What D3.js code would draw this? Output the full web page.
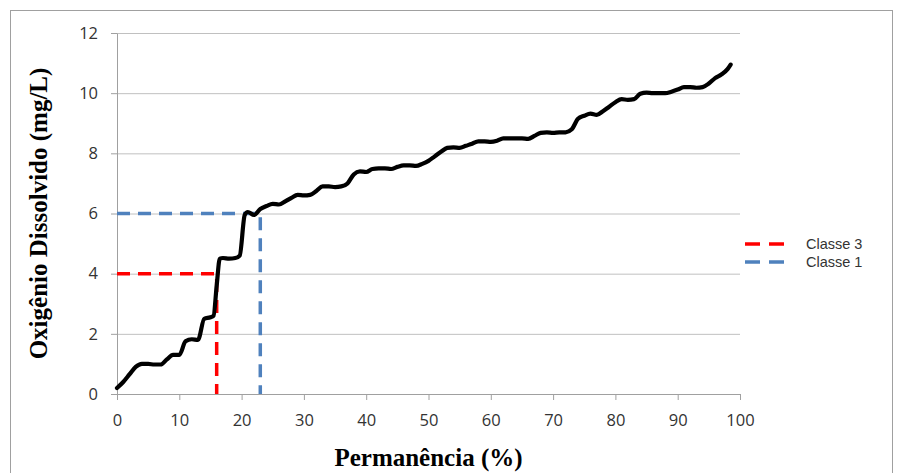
<!DOCTYPE html>
<meta charset="utf-8">
<title>Permanência do Oxigênio Dissolvido</title>
<style>
body{margin:0;background:#fff;}
.tick text{font-family:"Open Sans",sans-serif;font-size:16.5px;fill:#333;}
.grid line{stroke:#c0c0c0;}
.axis path,.axis line{stroke:#a0a0a0;}
.title{font-family:"Liberation Serif",serif;font-weight:bold;font-size:25px;fill:#000;}
.legend text{font-family:"Liberation Sans",sans-serif;font-size:14.5px;fill:#333;}
</style>
<body>
<div id="container"></div>
<script src="https://d3js.org/d3.v7.min.js"></script>
<script>
// permanence (%) and dissolved oxygen (mg/L)
var permanencia = [0, 1, 2, 3, 4, 5, 6, 7, 8, 9, 10, 11, 12, 13, 14, 15, 15.5, 16, 16.5, 17, 18, 19, 19.7, 20.5, 21, 22, 23, 24, 25, 26, 27, 28, 29, 30, 31, 32, 33, 34, 35, 36, 37, 38, 39, 40, 41, 42, 43, 44, 45, 46, 47, 48, 49, 50, 51, 52, 53, 54, 55, 56, 57, 58, 59, 60, 61, 62, 63, 64, 65, 66, 67, 68, 69, 70, 71, 72, 73, 74, 75, 76, 77, 78, 79, 80, 81, 82, 83, 84, 85, 86, 87, 88, 89, 90, 91, 92, 93, 94, 95, 96, 97, 98, 98.5];
var oxigenio = [0.2, 0.4, 0.65, 0.9, 1.0, 1.0, 0.98, 0.98, 1.15, 1.3, 1.3, 1.75, 1.82, 1.8, 2.5, 2.55, 2.6, 3.6, 4.5, 4.52, 4.5, 4.52, 4.6, 5.95, 6.05, 5.95, 6.15, 6.25, 6.32, 6.3, 6.4, 6.52, 6.62, 6.6, 6.62, 6.75, 6.9, 6.9, 6.88, 6.9, 7.0, 7.3, 7.4, 7.38, 7.48, 7.5, 7.5, 7.48, 7.55, 7.6, 7.6, 7.58, 7.65, 7.75, 7.9, 8.05, 8.18, 8.2, 8.18, 8.25, 8.32, 8.4, 8.4, 8.38, 8.42, 8.5, 8.5, 8.5, 8.5, 8.48, 8.58, 8.68, 8.7, 8.68, 8.7, 8.7, 8.8, 9.15, 9.25, 9.32, 9.28, 9.4, 9.55, 9.7, 9.8, 9.78, 9.8, 9.98, 10.02, 10.0, 10.0, 10.0, 10.05, 10.12, 10.2, 10.2, 10.18, 10.2, 10.32, 10.5, 10.62, 10.8, 10.95];

// class thresholds: [permanence, oxygen]
var classes = ["Classe 3", "Classe 1"];
var classePerm = [16, 23];
var classeOD = [4, 6];
var classeCor = ["#ff0000", "#4f81bd"];

var xTicks = [0, 10, 20, 30, 40, 50, 60, 70, 80, 90, 100];
var yTicks = [0, 2, 4, 6, 8, 10, 12];

var width = 897, height = 473;
var margin = {left:117, right:157, top:33, bottom:79};

var svg = d3.select("#container").append("svg")
    .attr("width", width)
    .attr("height", height);

// outer frame
svg.append("rect")
   .attr("x", 10.5).attr("y", 10.5)
   .attr("width", 882).attr("height", 475)
   .attr("fill", "none").attr("stroke", "#a0a0a0");

var x = d3.scaleLinear().domain([0, 100]).range([margin.left, width - margin.right]);
var y = d3.scaleLinear().domain([0, 12]).range([height - margin.bottom, margin.top]);

// horizontal grid
svg.append("g")
   .attr("class", "grid")
   .attr("transform", "translate(" + margin.left + ",0)")
   .call(d3.axisLeft(y).tickValues(yTicks.slice(1)).tickSize(-(x(100) - x(0))).tickFormat(""))
   .call(function(g){ g.select(".domain").remove(); });

svg.append("g")
   .attr("class", "axis")
   .attr("transform", "translate(" + margin.left + ",0)")
   .call(d3.axisLeft(y).tickValues(yTicks).tickSize(6).tickSizeOuter(0).tickPadding(13));

svg.append("g")
   .attr("class", "axis")
   .attr("transform", "translate(0," + y(0) + ")")
   .call(d3.axisBottom(x).tickValues(xTicks).tickSize(6).tickSizeOuter(0).tickPadding(14));

// class reference lines
classes.forEach(function(c, i){
  var pts = [[0, classeOD[i]], [classePerm[i], classeOD[i]], [classePerm[i], 0]];
  svg.append("path")
     .datum(pts)
     .attr("fill", "none")
     .attr("stroke", classeCor[i])
     .attr("stroke-width", 3.5)
     .attr("stroke-dasharray", "13,8")
     .attr("d", d3.line().x(function(d){ return x(d[0]); }).y(function(d){ return y(d[1]); }));
});

var line = d3.line()
    .x(function(d, i){ return x(permanencia[i]); })
    .y(function(d){ return y(d); })
    .curve(d3.curveMonotoneX);

svg.append("path")
   .datum(oxigenio)
   .attr("fill", "none")
   .attr("stroke", "#000")
   .attr("stroke-width", 4.2)
   .attr("stroke-linejoin", "round")
   .attr("stroke-linecap", "round")
   .attr("d", line);

// legend
var legend = svg.append("g").attr("class", "legend");
classes.forEach(function(c, i){
  var ly = 244 + i * 18;
  legend.append("line")
        .attr("x1", 745).attr("x2", 791)
        .attr("y1", ly).attr("y2", ly)
        .attr("stroke", classeCor[i])
        .attr("stroke-width", 3.5)
        .attr("stroke-dasharray", "15,9");
  legend.append("text")
        .attr("x", 806).attr("y", ly + 5)
        .text(c);
});

// axis titles
svg.append("text")
   .attr("class", "title")
   .attr("text-anchor", "middle")
   .attr("x", (x(0) + x(100)) / 2)
   .attr("y", 466)
   .text("Permanência (%)");

svg.append("text")
   .attr("class", "title")
   .attr("text-anchor", "middle")
   .attr("transform", "translate(47," + (y(0) + y(12)) / 2 + ")rotate(-90)")
   .text("Oxigênio Dissolvido (mg/L)");
</script>
</body>
